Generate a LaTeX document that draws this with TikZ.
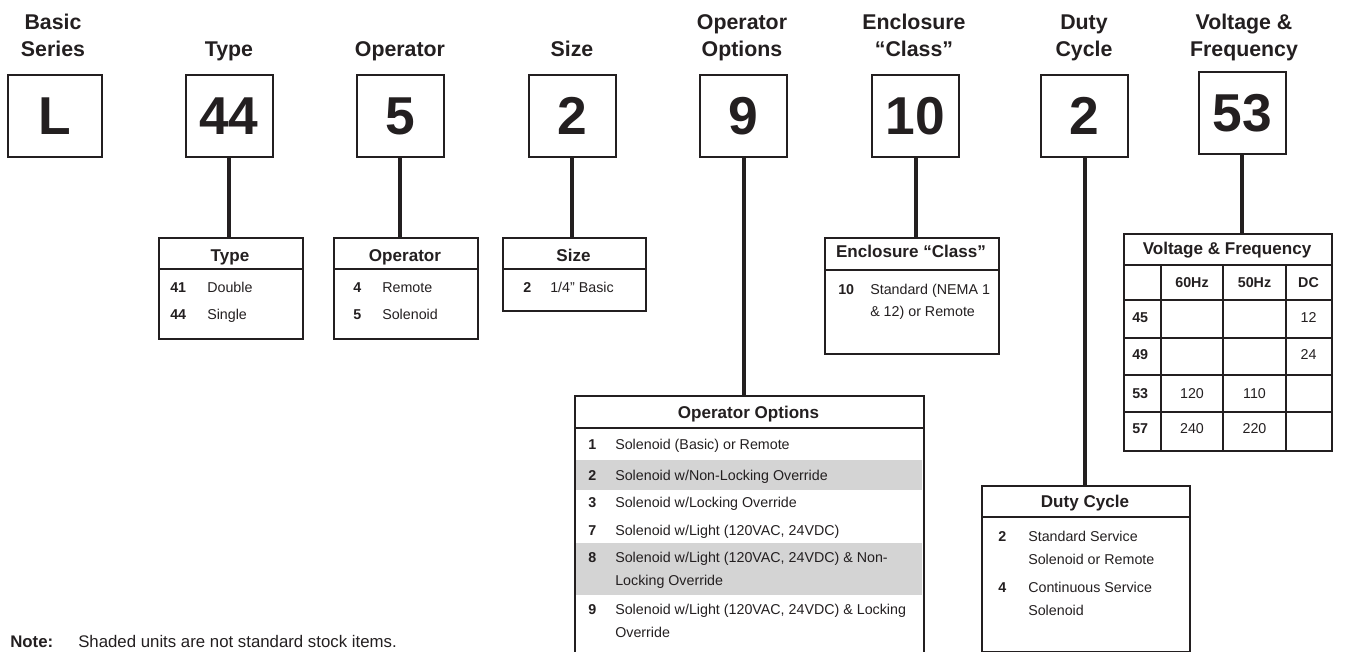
\documentclass[tikz,border=0pt]{standalone}
\usepackage{fontspec}
\setmainfont{Liberation Sans}
\definecolor{ink}{RGB}{35,31,32}
\definecolor{rowgray}{RGB}{212,212,212}
\begin{document}
\begin{tikzpicture}[x=0.75pt,y=-0.75pt,
  numbox/.style={draw=ink, line width=1.5pt, inner sep=0pt, text=ink,
    minimum width=65.25pt, minimum height=61.5pt,
    font=\fontsize{40}{40}\selectfont\bfseries},
  ttl/.style={anchor=base, inner sep=0pt, text=ink, font=\fontsize{16}{19}\selectfont\bfseries},
  tbl/.style={draw=ink, line width=1.5pt, anchor=north west, inner sep=0pt},
  rule/.style={draw=ink, line width=1.5pt},
  hdr/.style={anchor=base, inner sep=0pt, text=ink, font=\fontsize{12.8}{15}\selectfont\bfseries},
  num/.style={anchor=base west, inner sep=0pt, text=ink, font=\fontsize{10.7}{13}\selectfont\bfseries},
  txt/.style={anchor=base west, inner sep=0pt, text=ink, font=\fontsize{10.7}{13}\selectfont},
  cnum/.style={anchor=base, inner sep=0pt, text=ink, font=\fontsize{10.7}{13}\selectfont\bfseries},
  ctxt/.style={anchor=base, inner sep=0pt, text=ink, font=\fontsize{10.7}{13}\selectfont},
  conn/.style={draw=ink, line width=3pt},
  note/.style={anchor=base west, inner sep=0pt, text=ink, font=\fontsize{12.6}{15}\selectfont}
]
\path[use as bounding box, clip] (0,0) rectangle (1354,652);

% ---- titles ----
\node[ttl] (t1a) at (53,30) {Basic};
\node[ttl] (t1b) at (53,57) {Series};
\node[ttl] (t2) at (229,57) {Type};
\node[ttl] (t3) at (400,57) {Operator};
\node[ttl] (t4) at (572,57) {Size};
\node[ttl] (t5a) at (742,30) {Operator};
\node[ttl] (t5b) at (742,57) {Options};
\node[ttl] (t6a) at (914,30) {Enclosure};
\node[ttl] (t6b) at (914,57) {“Class”};
\node[ttl] (t7a) at (1084,30) {Duty};
\node[ttl] (t7b) at (1084,57) {Cycle};
\node[ttl] (t8a) at (1244,30) {Voltage \&};
\node[ttl] (t8b) at (1244,57) {Frequency};

% ---- code boxes ----
\node[numbox, minimum width=70.5pt] (bL) at (55,116) {L};
\node[numbox] (bT) at (229,116) {44};
\node[numbox] (bO) at (400,116) {5};
\node[numbox] (bS) at (572,116) {2};
\node[numbox] (bP) at (743.5,116) {9};
\node[numbox] (bE) at (915.5,116) {10};
\node[numbox] (bD) at (1084.5,116) {2};
\node[numbox] (bV) at (1242,113) {53};

% ---- tables ----
\fill[rowgray] (575,460) rectangle (922,490);
\fill[rowgray] (575,543) rectangle (922,595);

\node[tbl, minimum width=108pt, minimum height=75.75pt] (tT) at (158,237) {};
\node[tbl, minimum width=108pt, minimum height=75.75pt] (tO) at (333,237) {};
\node[tbl, minimum width=107.25pt, minimum height=54.75pt] (tS) at (502,237) {};
\node[tbl, minimum width=261.75pt, minimum height=202.5pt] (tP) at (574,395) {};
\node[tbl, minimum width=130.5pt, minimum height=87pt] (tE) at (824,237) {};
\node[tbl, minimum width=156pt, minimum height=162.75pt] (tV) at (1123,233) {};
\node[tbl, minimum width=156pt, minimum height=124.5pt] (tD) at (981,485) {};

% header rules
\draw[rule] (158,269) -- (302,269);
\draw[rule] (333,269) -- (477,269);
\draw[rule] (502,269) -- (645,269);
\draw[rule] (574,428) -- (923,428);
\draw[rule] (824,270) -- (998,270);
\draw[rule] (981,517) -- (1189,517);
% voltage grid
\draw[rule] (1123,265) -- (1331,265);
\foreach \yy in {300,338,375,412} \draw[rule] (1123,\yy) -- (1331,\yy);
\foreach \xx in {1161,1223,1286} \draw[rule] (\xx,265) -- (\xx,450);

% ---- connectors ----
\draw[conn] (bT.south) -- (bT.south |- tT.north);
\draw[conn] (bO.south) -- (bO.south |- tO.north);
\draw[conn] (bS.south) -- (bS.south |- tS.north);
\draw[conn] (bP.south) -- (bP.south |- tP.north);
\draw[conn] (bE.south) -- (bE.south |- tE.north);
\draw[conn] (bD.south) -- (bD.south |- tD.north);
\draw[conn] (bV.south) -- (bV.south |- tV.north);

% ---- Type table ----
\node[hdr] (hT) at (230,262) {Type};
\node[num] (nT1) at (170,293) {41};
\node[txt] (xT1) at (207,293) {Double};
\node[num] (nT2) at (170,320) {44};
\node[txt] (xT2) at (207,320) {Single};

% ---- Operator table ----
\node[hdr] (hO) at (405,262) {Operator};
\node[num] (nO1) at (353,293) {4};
\node[txt] (xO1) at (382,293) {Remote};
\node[num] (nO2) at (353,320) {5};
\node[txt] (xO2) at (382,320) {Solenoid};

% ---- Size table ----
\node[hdr] (hS) at (573.5,262) {Size};
\node[num] (nS1) at (523,293) {2};
\node[txt] (xS1) at (550,293) {1/4" Basic};

% ---- Operator Options table ----
\node[hdr] (hP) at (748.5,418) {Operator Options};
\node[num] (nP1) at (588,450) {1};
\node[txt] (xP1) at (615,450) {Solenoid (Basic) or Remote};
\node[num] (nP2) at (588,480) {2};
\node[txt] (xP2) at (615,480) {Solenoid w/Non-Locking Override};
\node[num] (nP3) at (588,507) {3};
\node[txt] (xP3) at (615,507) {Solenoid w/Locking Override};
\node[num] (nP7) at (588,535) {7};
\node[txt] (xP7) at (615,535) {Solenoid w/Light (120VAC, 24VDC)};
\node[num] (nP8) at (588,562) {8};
\node[txt] (xP8a) at (615,562) {Solenoid w/Light (120VAC, 24VDC) \& Non-};
\node[txt] (xP8b) at (615,585) {Locking Override};
\node[num] (nP9) at (588,614) {9};
\node[txt] (xP9a) at (615,614) {Solenoid w/Light (120VAC, 24VDC) \& Locking};
\node[txt] (xP9b) at (615,637) {Override};

% ---- Enclosure table ----
\node[hdr] (hE) at (911,258) {Enclosure “Class”};
\node[num] (nE1) at (838,295) {10};
\node[txt] (xE1a) at (870,295) {Standard (NEMA 1};
\node[txt] (xE1b) at (870,317) {\& 12) or Remote};

% ---- Voltage table ----
\node[hdr] (hV) at (1227,255) {Voltage \& Frequency};
\node[cnum] (cV1) at (1192,288) {60Hz};
\node[cnum] (cV2) at (1254.5,288) {50Hz};
\node[cnum] (cV3) at (1308.5,288) {DC};
\node[num] (rV1) at (1132,323) {45};
\node[num] (rV2) at (1132,360) {49};
\node[num] (rV3) at (1132,398) {53};
\node[num] (rV4) at (1132,433) {57};
\node[ctxt] (vV13) at (1308.5,323) {12};
\node[ctxt] (vV23) at (1308.5,360) {24};
\node[ctxt] (vV31) at (1192,398) {120};
\node[ctxt] (vV32) at (1254.5,398) {110};
\node[ctxt] (vV41) at (1192,433) {240};
\node[ctxt] (vV42) at (1254.5,433) {220};

% ---- Duty table ----
\node[hdr] (hD) at (1085,507) {Duty Cycle};
\node[num] (nD1) at (998,541) {2};
\node[txt] (xD1a) at (1028,541) {Standard Service};
\node[txt] (xD1b) at (1028,564) {Solenoid or Remote};
\node[num] (nD2) at (998,592) {4};
\node[txt] (xD2a) at (1028,592) {Continuous Service};
\node[txt] (xD2b) at (1028,615) {Solenoid};

% ---- note ----
\node[note, font=\fontsize{12.6}{15}\selectfont\bfseries] (noteA) at (10,647) {Note:};
\node[note] (noteB) at (78,647) {Shaded units are not standard stock items.};
\end{tikzpicture}
\end{document}
